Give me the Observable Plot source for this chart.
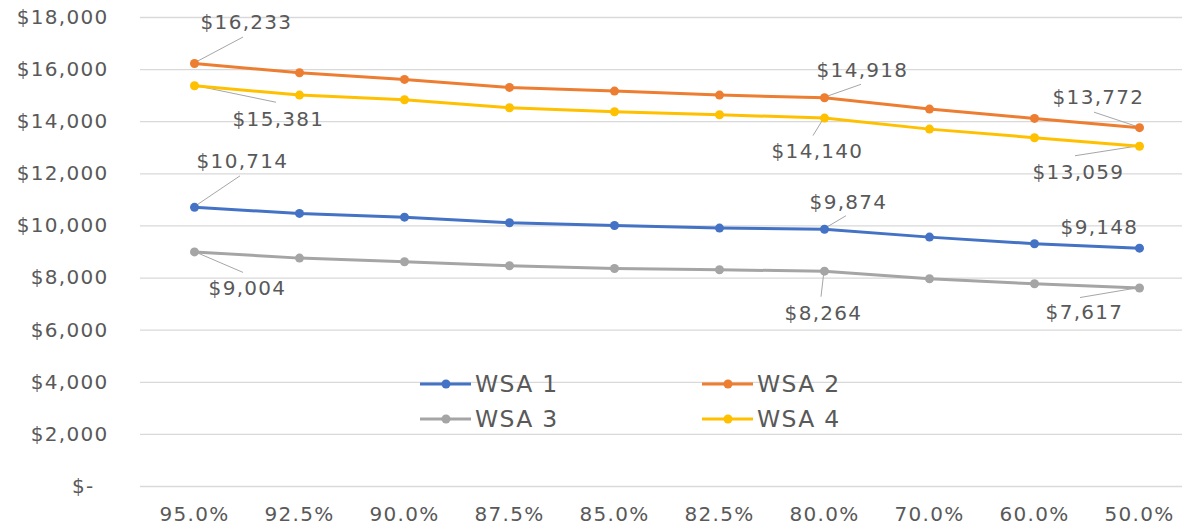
<!DOCTYPE html>
<html>
<head>
<meta charset="utf-8">
<script src="https://cdn.jsdelivr.net/npm/d3@7"></script>
<script src="https://cdn.jsdelivr.net/npm/@observablehq/plot@0.6"></script>
<style>
  html, body { margin: 0; padding: 0; background: #fff; }
  #wrap { position: relative; width: 1182px; height: 525px; }
  #wrap svg text { letter-spacing: 1.3px; }
  #legend { position: absolute; left: 0; top: 0; pointer-events: none; }
  #legend text { letter-spacing: 2.2px; }
</style>
</head>
<body>
<div id="wrap"></div>
<script>
// ---- data ----
const categories = ["95.0%", "92.5%", "90.0%", "87.5%", "85.0%", "82.5%", "80.0%", "70.0%", "60.0%", "50.0%"];
const seriesNames = ["WSA 1", "WSA 2", "WSA 3", "WSA 4"];
const wsa1 = [10714, 10480, 10338, 10122, 10019, 9917, 9874, 9571, 9315, 9148];
const wsa2 = [16233, 15881, 15624, 15317, 15175, 15021, 14918, 14484, 14127, 13772];
const wsa3 = [9004, 8765, 8624, 8471, 8368, 8317, 8264, 7973, 7781, 7617];
const wsa4 = [15381, 15021, 14843, 14536, 14383, 14268, 14140, 13716, 13386, 13059];
const yTicks = [0, 2000, 4000, 6000, 8000, 10000, 12000, 14000, 16000, 18000];
const labeledIndices = [0, 6, 9];

const seriesValues = [wsa1, wsa2, wsa3, wsa4];
const colors = ["#4472C4", "#ED7D31", "#A5A5A5", "#FFC000"];

const rows = [];
seriesNames.forEach((s, si) => categories.forEach((c, i) => rows.push({series: s, cat: c, value: seriesValues[si][i]})));

// ---- label placement (pixel offsets from the point: text centre, leader end) ----
const placement = {
  "0-0": [48, -46, 46, -31],  "0-6": [24, -27, 22, -13],  "0-9": [-40, -21, 0, 0],
  "1-0": [52, -41, 49, -26],  "1-6": [38, -27, 37, -13],  "1-9": [-41, -30, -45, -15],
  "2-0": [53, 37, 49, 21],    "2-6": [-1, 42, -3, 26],    "2-9": [-55, 25, -59, 10],
  "3-0": [84, 34, 82, 17],    "3-6": [-7, 34, -11, 18],   "3-9": [-61, 26, -64, 10]
};
const annotations = [];
seriesValues.forEach((vals, si) => labeledIndices.forEach(i => {
  const p = placement[si + "-" + i];
  annotations.push({s: si, i, cat: categories[i], value: vals[i], tx: p[0], ty: p[1], lx: p[2], ly: p[3]});
}));

const money = v => v === 0 ? "$-\u2007" : "$" + d3.format(",")(v);

function leaders(index, scales) {
  const g = d3.create("svg:g").attr("stroke", "#a6a6a6").attr("stroke-width", 1);
  for (const a of annotations) {
    if (a.lx === 0 && a.ly === 0) continue;
    const px = scales.x(a.cat), py = scales.y(a.value);
    g.append("line").attr("x1", px).attr("y1", py).attr("x2", px + a.lx).attr("y2", py + a.ly);
  }
  return g.node();
}

const chart = Plot.plot({
  width: 1182,
  height: 525,
  marginLeft: 140,
  marginRight: 0,
  marginTop: 17,
  marginBottom: 39,
  style: {fontFamily: "DejaVu Sans", fontSize: "20px", color: "#595959", background: "#fff"},
  x: {type: "point", domain: categories, range: [192.5, 1139.5], padding: 0, label: null, tickSize: 0, tickPadding: 20},
  y: {domain: [0, 18000], ticks: yTicks, tickFormat: money, label: null, tickSize: 0, tickPadding: 32},
  color: {domain: seriesNames, range: colors},
  marks: [
    Plot.ruleY(yTicks, {stroke: "#d9d9d9", strokeWidth: 1.3}),
    leaders,
    Plot.line(rows, {x: "cat", y: "value", z: "series", stroke: "series", strokeWidth: 3, curve: "linear"}),
    Plot.dot(rows, {x: "cat", y: "value", fill: "series", r: 4.5}),
    ...annotations.map(a => Plot.text([a], {
      x: "cat", y: "value", text: d => money(d.value),
      dx: a.tx, dy: a.ty, fill: "#595959", fontSize: 20, textAnchor: "middle", lineAnchor: "middle"
    }))
  ]
});

const wrap = document.getElementById("wrap");
wrap.appendChild(chart);

// ---- legend overlay inside the plot area ----
const legendItems = [
  {name: seriesNames[0], color: colors[0], x: 420, y: 384},
  {name: seriesNames[1], color: colors[1], x: 702, y: 384},
  {name: seriesNames[2], color: colors[2], x: 420, y: 419},
  {name: seriesNames[3], color: colors[3], x: 702, y: 419}
];
const leg = d3.select(wrap).append("svg").attr("id", "legend").attr("width", 1182).attr("height", 525);
for (const it of legendItems) {
  const g = leg.append("g").attr("transform", `translate(${it.x},${it.y})`);
  g.append("line").attr("x1", 0).attr("x2", 51).attr("y1", 0).attr("y2", 0).attr("stroke", it.color).attr("stroke-width", 3);
  g.append("circle").attr("cx", 26).attr("cy", 0).attr("r", 4.5).attr("fill", it.color);
  g.append("text").attr("x", 55).attr("y", 0).attr("dy", "0.36em")
    .attr("font-family", "DejaVu Sans").attr("font-size", 23.5).attr("fill", "#595959").text(it.name);
}
</script>
</body>
</html>
